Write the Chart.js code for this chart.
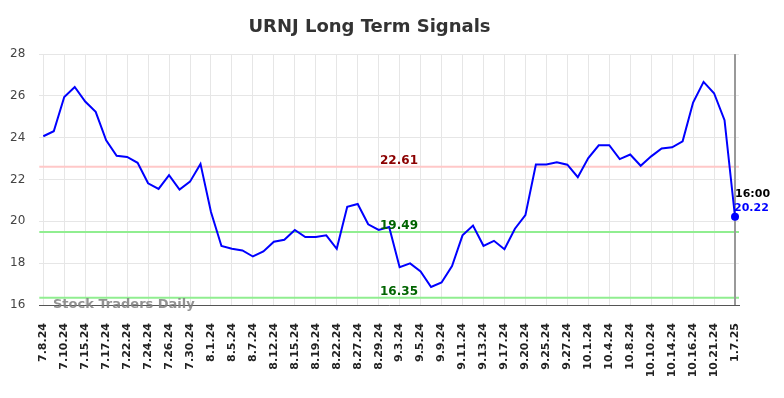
<!DOCTYPE html>
<html>
<head>
<meta charset="utf-8">
<script src="https://cdn.jsdelivr.net/npm/chart.js@4.4.1/dist/chart.umd.min.js"></script>
<style>
html,body{margin:0;padding:0;background:#fff;}
#c{display:block;}
</style>
</head>
<body>
<canvas id="c" width="784" height="398"></canvas>
<script>
const dates = ["7.8.24","7.9.24","7.10.24","7.12.24","7.15.24","7.16.24","7.17.24","7.19.24","7.22.24","7.23.24",
"7.24.24","7.25.24","7.26.24","7.29.24","7.30.24","7.31.24","8.1.24","8.2.24","8.5.24","8.6.24",
"8.7.24","8.9.24","8.12.24","8.14.24","8.15.24","8.16.24","8.19.24","8.21.24","8.22.24","8.26.24",
"8.27.24","8.28.24","8.29.24","8.30.24","9.3.24","9.4.24","9.5.24","9.6.24","9.9.24","9.10.24",
"9.11.24","9.12.24","9.13.24","9.16.24","9.17.24","9.19.24","9.20.24","9.24.24","9.25.24","9.26.24",
"9.27.24","9.30.24","10.1.24","10.3.24","10.4.24","10.7.24","10.8.24","10.9.24","10.10.24","10.11.24",
"10.14.24","10.15.24","10.16.24","10.18.24","10.21.24","10.22.24","1.7.25"];
const prices = [24.07,24.31,25.95,26.43,25.73,25.24,23.88,23.14,23.08,22.80,
21.82,21.55,22.21,21.52,21.90,22.75,20.45,18.82,18.69,18.61,
18.32,18.56,19.03,19.12,19.59,19.25,19.25,19.33,18.69,20.70,
20.83,19.86,19.59,19.73,17.81,17.99,17.61,16.86,17.08,17.86,
19.33,19.80,18.83,19.07,18.67,19.65,20.30,22.72,22.72,22.83,
22.71,22.11,23.03,23.64,23.64,22.98,23.20,22.66,23.11,23.49,
23.54,23.83,25.68,26.67,26.13,24.84,20.22];
const tickIndices = [0,2,4,6,8,10,12,14,16,18,20,22,24,26,28,30,32,34,36,38,40,42,44,46,48,50,52,54,56,58,60,62,64,66];
const yTicks = [16,18,20,22,24,26,28];
const resistance = 22.61;
const supports = [19.49, 16.35];
const lastTime = "16:00";
const titleText = "URNJ Long Term Signals";
const watermark = "Stock Traders Daily";

const FONT = "'DejaVu Sans', sans-serif";

const levelsPlugin = {
  id: 'levels',
  beforeDatasetsDraw(chart) {
    const {ctx, chartArea: a, scales: {x, y}} = chart;
    ctx.save();
    const drawLine = (v, color) => {
      const py = y.getPixelForValue(v);
      ctx.strokeStyle = color; ctx.lineWidth = 2;
      ctx.beginPath(); ctx.moveTo(a.left, py); ctx.lineTo(a.right, py); ctx.stroke();
    };
    drawLine(resistance, 'rgb(255,200,200)');
    supports.forEach(v => drawLine(v, 'rgb(144,238,144)'));
    const lx = x.getPixelForValue(prices.length - 1);
    ctx.strokeStyle = '#999'; ctx.lineWidth = 2;
    ctx.beginPath(); ctx.moveTo(lx, a.top); ctx.lineTo(lx, a.bottom); ctx.stroke();
    ctx.restore();
  },
  afterDatasetsDraw(chart) {
    const {ctx, chartArea: a, scales: {x, y}} = chart;
    ctx.save();
    ctx.font = "bold 12px " + FONT;
    ctx.textAlign = 'center'; ctx.textBaseline = 'alphabetic';
    const cx = 399;
    ctx.fillStyle = '#8b0000';
    ctx.fillText(resistance.toFixed(2), cx, y.getPixelForValue(resistance) - 3);
    ctx.fillStyle = '#006400';
    supports.forEach(v => ctx.fillText(v.toFixed(2), cx, y.getPixelForValue(v) - 3));
    const i = prices.length - 1;
    const px = x.getPixelForValue(i), py = y.getPixelForValue(prices[i]);
    ctx.fillStyle = '#0000ff';
    ctx.beginPath(); ctx.arc(px, py, 4, 0, Math.PI * 2); ctx.fill();
    ctx.font = "bold 11px " + FONT;
    ctx.textAlign = 'left';
    ctx.fillStyle = '#000';
    ctx.fillText(lastTime, px, py - 20);
    ctx.fillStyle = '#0000ff';
    ctx.fillText(prices[i].toFixed(2), px - 1, py - 6);
    ctx.font = "bold 13px " + FONT;
    ctx.fillStyle = 'rgba(128,128,128,0.85)';
    ctx.textBaseline = 'middle';
    ctx.fillText(watermark, 53, a.bottom);
    ctx.restore();
  }
};

new Chart(document.getElementById('c'), {
  type: 'line',
  data: {
    datasets: [{
      data: prices.map((v, i) => ({x: i, y: v})),
      borderColor: '#0000ff',
      borderWidth: 2,
      pointRadius: 0,
      tension: 0,
      fill: false
    }]
  },
  options: {
    responsive: false,
    animation: false,
    devicePixelRatio: 1,
    layout: {padding: {left: 0, right: 45, top: 0, bottom: 0}},
    plugins: {
      legend: {display: false},
      tooltip: {enabled: false},
      title: {
        display: true, text: titleText, color: '#333',
        font: {family: FONT, size: 18, weight: 'bold'},
        padding: {top: 17, bottom: 15.5}
      }
    },
    scales: {
      x: {
        type: 'linear',
        min: -0.38, max: 66.38,
        afterBuildTicks(axis) { axis.ticks = tickIndices.map(v => ({value: v})); },
        afterFit(axis) { axis.height = 93; },
        grid: {color: '#e6e6e6', lineWidth: 1, drawTicks: false},
        border: {display: true, color: '#555', width: 1},
        ticks: {
          autoSkip: false, maxRotation: 90, minRotation: 90, padding: 18,
          color: '#222', font: {family: FONT, size: 11, weight: 'bold'},
          callback: (v) => dates[v]
        }
      },
      y: {
        min: 16, max: 28,
        afterBuildTicks(axis) { axis.ticks = yTicks.map(v => ({value: v})); },
        afterFit(axis) { axis.width = 39.3; },
        grid: {color: '#e6e6e6', lineWidth: 1, drawTicks: false},
        border: {display: false},
        ticks: {padding: 14, color: '#444', font: {family: FONT, size: 12}}
      }
    }
  },
  plugins: [levelsPlugin]
});
</script>
</body>
</html>
